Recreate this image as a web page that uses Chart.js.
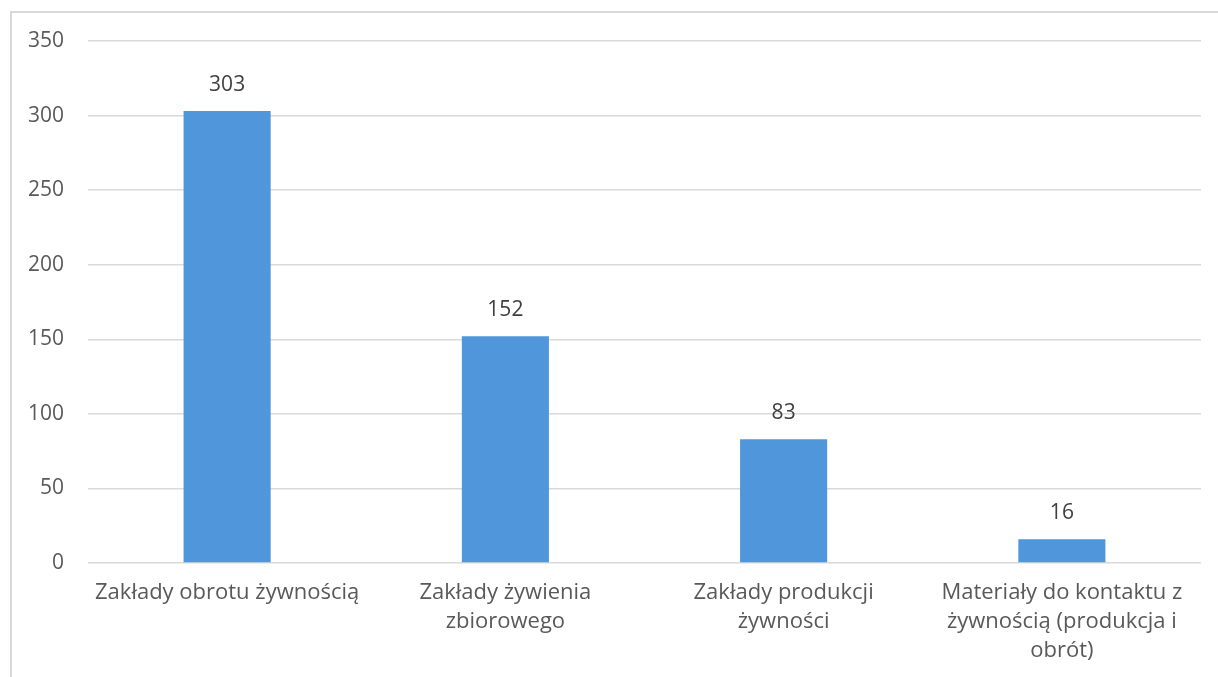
<!DOCTYPE html>
<html>
<head>
<meta charset="utf-8">
<script src="https://cdn.jsdelivr.net/npm/chart.js@4"></script>
<style>
  html, body { margin: 0; padding: 0; background: #fff; }
  #wrap { position: relative; width: 1218px; height: 677px; overflow: hidden; }
  #frame { position: absolute; left: 10px; top: 11px; width: 1300px; height: 800px; border-left: 2px solid #d9d9d9; border-top: 2px solid #d9d9d9; }
  #box { position: absolute; left: 0; top: 0; width: 1218px; height: 677px; }
</style>
</head>
<body>
<div id="wrap">
  <div id="frame"></div>
  <div id="box"><canvas id="c"></canvas></div>
</div>
<script>
const categories = [
  ["Zakłady obrotu żywnością"],
  ["Zakłady żywienia", "zbiorowego"],
  ["Zakłady produkcji", "żywności"],
  ["Materiały do kontaktu z", "żywnością (produkcja i", "obrót)"]
];
const values = [303, 152, 83, 16];
const yTicks = [0, 50, 100, 150, 200, 250, 300, 350];

const FONT = "'Open Sans', 'Liberation Sans', sans-serif";
const TEXT = '#595959';

const labelPlugin = {
  id: 'valueLabels',
  afterDatasetsDraw(chart) {
    const ctx = chart.ctx;
    const meta = chart.getDatasetMeta(0);
    ctx.save();
    ctx.font = '21px ' + FONT;
    ctx.fillStyle = '#404040';
    ctx.textAlign = 'center';
    ctx.textBaseline = 'middle';
    meta.data.forEach((bar, i) => {
      ctx.fillText(String(values[i]), bar.x, bar.y - 26);
    });
    ctx.restore();
  }
};

new Chart(document.getElementById('c'), {
  type: 'bar',
  data: {
    labels: categories,
    datasets: [{
      data: values,
      backgroundColor: '#4F96DA',
      barPercentage: 0.313,
      categoryPercentage: 1.0
    }]
  },
  options: {
    responsive: true,
    maintainAspectRatio: false,
    animation: false,
    devicePixelRatio: 1,
    layout: { padding: { top: 41, right: 17, left: 0, bottom: 0 } },
    plugins: { legend: { display: false }, tooltip: { enabled: false } },
    scales: {
      x: {
        grid: { display: false, drawTicks: false },
        border: { display: false },
        ticks: {
          color: TEXT,
          font: { family: FONT, size: 22, lineHeight: 1.32 },
          padding: 15,
          maxRotation: 0,
          autoSkip: false
        },
        afterFit(scale) { scale.height = 114; }
      },
      y: {
        min: 0,
        max: 350,
        afterBuildTicks(scale) { scale.ticks = yTicks.map(v => ({ value: v })); },
        grid: { color: '#d9d9d9', lineWidth: 1.5, drawTicks: false },
        border: { display: false },
        ticks: {
          color: TEXT,
          font: { family: FONT, size: 21 },
          padding: 24
        },
        afterFit(scale) { scale.width = 88; }
      }
    }
  },
  plugins: [labelPlugin]
});
</script>
</body>
</html>
